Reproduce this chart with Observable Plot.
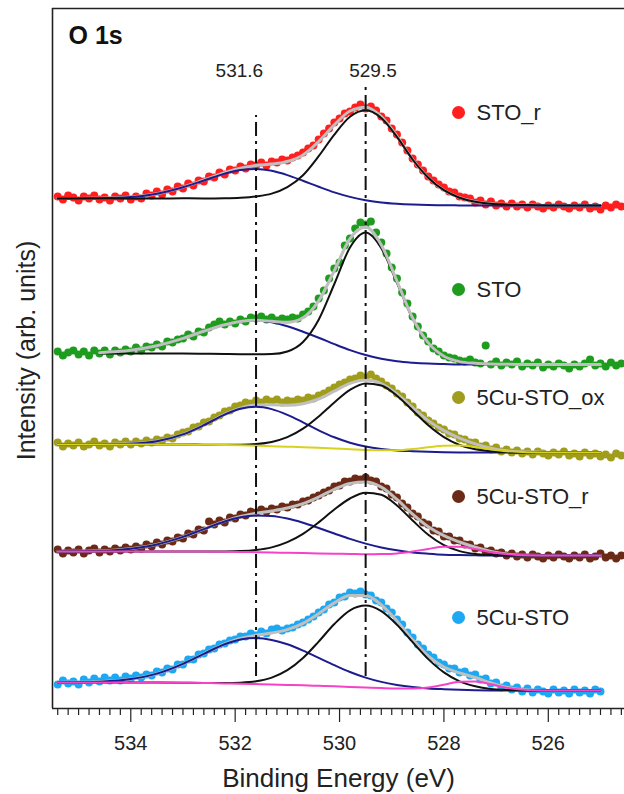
<!DOCTYPE html>
<html>
<head>
<meta charset="utf-8">
<script src="https://cdn.jsdelivr.net/npm/d3@7"></script>
<script src="https://cdn.jsdelivr.net/npm/@observablehq/plot@0.6"></script>
<style>
html,body{margin:0;padding:0;background:#fff;overflow:hidden}
#chart svg{display:block}
</style>
</head>
<body>
<div id="chart"></div>
<script>
// ---------- samples ----------
const sampleNames = ["STO_r", "STO", "5Cu-STO_ox", "5Cu-STO_r", "5Cu-STO"];
const dotColors   = ["#ff1f1f", "#1e9c1e", "#a09c1c", "#6b2a16", "#1ca8f2"];
const extraColors = [null, null, "#d7d21e", "#f542c8", "#f542c8"];
const envelopeOnTop = ["STO"];

// ---------- measured points (binding energy scan, 0.1 eV step) ----------
const scanStart = 535.4, scanStep = 0.1;
const dataSTOr = [512,509,513,511,508,512,510,513,509,511,508,512,510,513,509,512,510,515,513,517,514,519,517,522,520,525,523,528,527,532,531,536,534,539,538,542,540,544,543,546,543,547,546,549,548,551,553,556,560,563,569,575,580,586,590,595,597,601,604,600,602,598,592,588,580,574,566,558,550,544,538,532,528,524,521,517,516,512,511,510,506,508,504,507,503,505,502,505,502,504,501,504,502,500,503,501,504,502,500,503,501,504,500,502,499,503,501,504,502];
const dataSTO = [357,353,356,358,354,357,353,358,355,358,354,358,356,359,357,361,358,362,361,364,362,367,366,369,370,374,372,377,376,381,384,387,384,387,385,389,387,391,390,392,389,391,388,390,389,391,390,394,397,402,410,418,430,440,446,463,470,480,486,484,487,476,466,455,441,430,416,405,392,382,373,367,360,357,353,351,350,348,347,349,346,345,363,344,347,343,346,344,347,342,345,343,346,341,344,342,345,343,340,344,342,345,349,343,345,342,346,343,345];
const data5CuOx = [266,262,265,263,266,262,264,267,263,265,262,266,264,267,264,267,265,268,266,269,268,271,270,274,276,277,281,282,286,287,291,293,297,298,302,303,306,305,308,306,309,307,309,306,308,307,309,308,311,310,313,315,318,321,324,326,329,330,333,331,334,330,327,323,320,315,312,306,302,296,293,288,285,281,279,275,274,270,269,266,266,262,263,259,261,257,259,256,258,255,257,254,257,255,253,256,254,257,253,255,252,256,253,255,252,254,251,255,253];
const data5CuR = [159,155,158,156,159,155,158,160,156,159,157,160,158,161,159,162,160,164,162,166,164,168,167,171,170,175,174,179,178,187,184,188,186,191,190,194,193,197,196,199,197,200,199,202,201,204,204,207,208,211,213,216,218,222,223,227,227,230,229,231,228,227,222,220,214,211,205,201,195,192,186,184,178,177,172,172,168,168,164,164,160,161,157,158,155,156,153,155,152,154,151,154,152,150,153,151,154,152,150,153,151,154,150,152,155,151,153,150,153];
const data5Cu = [24,28,25,27,24,29,26,30,27,31,28,31,28,32,30,33,31,34,33,37,36,40,39,44,44,49,49,54,55,59,60,64,65,68,69,72,72,75,73,77,75,79,80,78,80,81,84,86,89,92,96,99,104,106,111,112,116,115,117,114,113,108,106,100,96,89,84,76,71,64,60,54,51,46,44,40,40,36,37,33,34,29,30,25,26,21,23,19,21,17,20,16,19,17,15,19,16,18,15,19,16,18,15,19,17];

// ---------- fitted components, read at these energies ----------
const fitEnergy = [535.4,535.0,534.6,534.0,533.5,533.0,532.6,532.2,531.9,531.6,531.3,531.0,530.7,530.4,530.1,529.8,529.5,529.2,528.9,528.6,528.3,528.0,527.7,527.4,527.1,526.8,526.4,525.8,525.0];

const bgSTOr    = [510,510,510,510,510,510,509.6,509.3,509,508.6,508.2,507.8,507.4,507,506.4,505.8,505.2,504.6,504.1,503.7,503.4,503.2,503.1,503,503,503,503,503,503];
const blueSTOr  = [0,0.1,0.2,1.4,4.8,11.2,18.4,25.6,29.5,31,29.5,25.6,20.3,14.7,9.7,5.8,3.1,1.4,0.6,0.2,0,0,0,0,0,0,0,0,0];
const blackSTOr = [0,0,0,0,0,0.2,0.5,1,1.8,3.5,6.7,13.6,25.9,45.3,67.5,85.9,93,85.9,67.5,45.3,27.4,15.1,7.7,3.7,1.8,1,0.4,0,0];

const bgSTO    = [null,null,355,355,355,355,354.8,354.5,354.2,354,353.5,353,352.5,352,351,349.5,348,346.5,345.5,345,344.5,344.2,344,344,344,344,344,344,344];
const blueSTO  = [null,null,0.8,3.2,7.7,15.1,22.5,29.3,32.8,34,32.8,29.3,24.3,18.8,13.4,8.9,5.5,3.2,1.7,0.8,0.4,0.2,0,0,0,0,0,0,0];
const blackSTO = [null,null,0,0,0,0,0,0,0.1,0.2,0.9,4,14,36.8,73.5,111.5,128,113.9,80.2,44.7,20.7,7.9,2.9,1.2,0.5,0.2,0,0,0];

const bg5CuOx    = [264,264,264,264,264,264,263.8,263.5,263.2,262.8,262.3,261.8,261.3,260.7,260,259.3,258.6,258,257.4,257,256.6,256.3,256.1,256,256,256,256,256,256];
const blue5CuOx  = [0,0,0.1,0.7,3.2,10.1,19.5,30.4,36.6,39,37.1,31.9,24.9,17.5,11.2,6.5,3.4,1.6,0.7,0.3,0.1,0,0,0,0,0,0,0,0];
const black5CuOx = [0,0,0,0,0,0,0,0.2,0.6,1.7,4.3,9.5,18.5,31.3,46.1,59.3,66.5,65,55.4,41.1,26.6,15.1,7.4,3.2,1.2,0.4,0.1,0,0];
const extra5CuOx = [0,0,0,0,0,0,0,0,0,0,0,0,0,0,0,0,0,0.3,0.95,2.4,4.6,6.5,6.9,5.4,3.1,1.3,0.3,0,0];

const bg5CuR    = [157,157,157,157,157,157,157,156.8,156.6,156.3,156,155.7,155.4,155.1,154.8,154.5,154.2,153.9,153.6,153.4,153.2,153,153,153,153,153,153,153,153];
const blue5CuR  = [0.1,0.3,0.7,2.8,7.1,14.6,22.4,30.2,34.6,36.8,36.5,34.2,30.3,25.4,20.2,15.1,10.7,7.2,4.6,2.7,1.6,0.8,0.4,0.2,0,0,0,0,0];
const black5CuR = [0,0,0,0,0,0,0,0.3,0.8,2.2,5.1,10.6,19.2,31,44.2,55.5,61.6,59.8,49.4,34.6,20.5,10.3,4.4,1.6,0.5,0,0,0,0];
const extra5CuR = [0,0,0,0,0,0,0,0,0,0,0,0,0,0,0,0,0,0.5,1.5,3.6,6.4,8.7,8.7,6.4,3.6,1.5,0.3,0,0];

const bg5Cu    = [26,26,26,26,26,25.8,25.5,25.1,24.8,24.4,24,23.6,23.2,22.7,22.2,21.6,21,20.4,19.9,19.5,19.1,18.8,18.5,18.3,18.1,18,18,18,18];
const blue5Cu  = [0.1,0.2,0.8,3.4,8.9,18.9,29.2,39.1,44.2,46,44.6,40.6,34.7,27.9,21.1,14.9,9.9,6.2,3.7,2,1,0.5,0.2,0,0,0,0,0,0];
const black5Cu = [0,0,0,0,0,0,0,0.3,1,2.8,6.9,14.7,27.3,44.2,62.3,76.6,82,77,63.9,46.8,30.3,17.3,8.7,3.9,1.5,0.6,0.1,0,0];
const extra5Cu = [0,0,0,0,0,0,0,0,0,0,0,0,0,0,0,0,0,0,0.1,0.5,1.9,4.9,8.2,8.8,6.1,2.7,0.5,0,0];

// ---------- annotations ----------
const refEnergy = [531.6, 529.5];
const refTop    = [593, 625];
const refBottom = [32, 32];
const refLabels = ["531.6", "529.5"];
const refLabelEnergy = [531.92, 529.36];
const refLabelLevel = 638;
const legendEnergy = 527.72;
const legendLevel = [596, 419, 311, 212, 91];
const majorTicks = [534, 532, 530, 528, 526];
const xDomain = [535.5, 524.54];
const yDomain = [0, 700];

// ---------- build tables ----------
const dataSets = [dataSTOr, dataSTO, data5CuOx, data5CuR, data5Cu];
const fitSets = [
  {bg: bgSTOr, blue: blueSTOr, black: blackSTOr, extra: null},
  {bg: bgSTO, blue: blueSTO, black: blackSTO, extra: null},
  {bg: bg5CuOx, blue: blue5CuOx, black: black5CuOx, extra: extra5CuOx},
  {bg: bg5CuR, blue: blue5CuR, black: black5CuR, extra: extra5CuR},
  {bg: bg5Cu, blue: blue5Cu, black: black5Cu, extra: extra5Cu}
];

const points = dataSets.map(arr => arr.map((v, i) => ({e: +(scanStart - scanStep * i).toFixed(2), v})));
const fits = fitSets.map(f => fitEnergy.map((e, k) => {
  const b = f.bg[k];
  if (b == null) return {e, blue: null, black: null, extra: null, env: null};
  const ex = f.extra ? f.extra[k] : 0;
  return {
    e,
    blue: b + f.blue[k],
    black: b + f.black[k],
    extra: f.extra ? b + ex : null,
    env: b + f.blue[k] + f.black[k] + ex
  };
}));

const minorTicks = d3.range(0, 55).map(i => +(524.6 + 0.2 * i).toFixed(1))
  .filter(t => t < xDomain[0] && t > xDomain[1] && !majorTicks.includes(t));

const FONT = "'Liberation Sans', Arial, Helvetica, sans-serif";
const CURVE = "monotone-x";
const NAVY = "#1c1c8f", BLACK = "#111111", GRAY = "#bfbfbf";

const marks = [];
// data points
points.forEach((pts, i) => {
  marks.push(Plot.dot(pts, {x: "e", y: "v", r: 4, fill: dotColors[i], stroke: "none"}));
});
// fit lines
fits.forEach((rows, i) => {
  const env = Plot.line(rows, {x: "e", y: "env", stroke: GRAY, strokeWidth: 3, curve: CURVE});
  const onTop = envelopeOnTop.includes(sampleNames[i]);
  if (!onTop) marks.push(env);
  marks.push(Plot.line(rows, {x: "e", y: "blue", stroke: NAVY, strokeWidth: 2, curve: CURVE}));
  marks.push(Plot.line(rows, {x: "e", y: "black", stroke: BLACK, strokeWidth: 2, curve: CURVE}));
  if (extraColors[i]) marks.push(Plot.line(rows, {x: "e", y: "extra", stroke: extraColors[i], strokeWidth: 2, curve: CURVE}));
  if (onTop) marks.push(env);
});
// reference lines
const refRows = refEnergy.map((e, i) => ({e, top: refTop[i], bottom: refBottom[i]}));
marks.push(Plot.ruleX(refRows, {x: "e", y1: "bottom", y2: "top", stroke: "#111", strokeWidth: 2, strokeDasharray: "14,5,3,5"}));
marks.push(Plot.text(refLabels.map((t, i) => ({t, e: refLabelEnergy[i]})), {
  x: "e", y: () => refLabelLevel, text: "t", fontSize: 19, fill: "#222", fontFamily: FONT
}));
// legend
const legendRows = sampleNames.map((n, i) => ({n, y: legendLevel[i], c: dotColors[i]}));
legendRows.forEach(r => {
  marks.push(Plot.dot([r], {x: () => legendEnergy, y: "y", r: 6.5, fill: r.c, stroke: "none"}));
});
marks.push(Plot.text(legendRows, {x: () => legendEnergy, y: "y", text: "n", dx: 18, textAnchor: "start", fontSize: 22, fill: "#222", fontFamily: FONT}));
// panel label
marks.push(Plot.text(["O 1s"], {frameAnchor: "top-left", dx: 16, dy: 27, textAnchor: "start", lineAnchor: "middle", fontSize: 25, fontWeight: "bold", fill: "#111", fontFamily: FONT}));
// axes
marks.push(Plot.axisX({ticks: minorTicks, tickSize: 7, tickFormat: () => "", stroke: "#222", strokeWidth: 1.2}));
marks.push(Plot.axisX({ticks: majorTicks, tickSize: 14, tickPadding: 13, fontSize: 20, label: null, stroke: "#222", strokeWidth: 1.2, fill: "#222", fontFamily: FONT, tickFormat: d => String(d)}));
marks.push(Plot.text(["Binding Energy (eV)"], {frameAnchor: "bottom", dy: 70, lineAnchor: "middle", fontSize: 26, fill: "#222", fontFamily: FONT}));
marks.push(Plot.text(["Intensity (arb. units)"], {frameAnchor: "left", dx: -26, dy: -8, rotate: -90, textAnchor: "middle", lineAnchor: "middle", fontSize: 25, fill: "#222", fontFamily: FONT}));
// frame (left, top, bottom; right edge is cut off)
marks.push(Plot.ruleX([xDomain[0]], {stroke: "#222", strokeWidth: 1.6}));
marks.push(Plot.ruleY(yDomain, {stroke: "#222", strokeWidth: 1.6}));

const chart = Plot.plot({
  width: 624,
  height: 794,
  marginLeft: 52,
  marginRight: 0,
  marginTop: 8,
  marginBottom: 86,
  style: {fontFamily: FONT, background: "#fff", overflow: "visible"},
  x: {domain: xDomain, label: null},
  y: {domain: yDomain, axis: null, label: null},
  marks
});
document.getElementById("chart").appendChild(chart);
</script>
</body>
</html>
